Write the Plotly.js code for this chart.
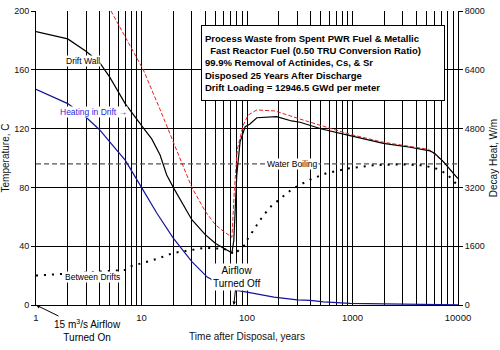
<!DOCTYPE html>
<html>
<head>
<meta charset="utf-8">
<script src="https://cdn.plot.ly/plotly-3.0.1.min.js"></script>
<style>html,body{margin:0;padding:0;background:#fff}#chart{width:500px;height:350px}</style>
</head>
<body>
<div id="chart"></div>
<script>
// Drift wall temperature (C)
const wallYears = [1,2,3,4,5,7,10.4,12.5,15,17.3,20,30,40,50,60,70,72,75,78,80,86,96,106,124,191,265,318,510,947,1960,3510,5430,6000,7260,9040,10000];
const wallTemp  = [186,181,172.5,165,155,137,120.5,113,102,88.6,80,58,48,42,38.6,36.3,35.5,44,79,88.4,111,121.3,123,127.4,128.1,125.2,124.3,119.7,115.2,110,107.3,104.8,103.2,97.5,89.6,86];
// Second (red dashed) temperature curve (C)
const redYears = [5.14,10.4,15,20,30,40,50,60,70,72,76,81,83,92,103,124,184,265,318,548,947,1960,3510,5260,7260,9040,10000];
const redTemp  = [200,160,133,111,80,64,54.7,50.1,46.7,46,79,106,109,122.4,129.3,132.7,132,128.1,126.5,121.3,116.1,110.7,107.7,105.9,97.5,89.6,86];
// Between drifts temperature (C)
const betweenYears = [1,7,7.8,10,13.9,20,30,40,60,70,75,85,96,100,106,117,128,141,170,213,256,306,410,569,881,1574,2820,4690,6280,7810,9370,10000];
const betweenTemp  = [20,23.8,26.2,28.5,31.3,35.4,37.7,38.9,38.2,36.6,34.3,37.5,41,44.2,47,52,56,60.4,67.3,73.1,77.7,81.2,85.8,89.7,92.7,95,95.7,95,92.7,89.3,83.5,81];
// Heating in drift (W/m, right axis)
const heatYears = [1,2,3,4,5,7,10,13.9,20,30,42,50,60,70,80,100,130,180,300,400,530,950,2000,4400,10000];
const heatWm    = [5870,5480,5100,4770,4440,3940,3200,2510,1820,1180,760,640,540,460,400,350,290,215,140,125,85,46,30,12,5];
// Water boiling (C)
const boilYears = [1,10000];
const boilTemp  = [96,96];
// Axis ticks
const xMajorTicks = [1,10,100,1000,10000];
const xMinorTicks = [2,3,4,5,6,7,8,9,20,30,40,50,60,70,80,90,200,300,400,500,600,700,800,900,2000,3000,4000,5000,6000,7000,8000,9000];
const yTicks = [0,40,80,120,160,200];
const yGrid = [40,80,120,160];
const y2Ticks = [0,1600,3200,4800,6400,8000];

const F = 'Arial, "Liberation Sans", sans-serif';
const L = 36, R = 458, T = 11, B = 305;
const px = v => (v - L) / (R - L);
const py = v => (B - v) / (B - T);

const traces = [
  {x: boilYears, y: boilTemp, mode:'lines', line:{color:'#555', width:1.2, dash:'5px,3px'}, hoverinfo:'skip'},
  {x: heatYears, y: heatWm, yaxis:'y2', mode:'lines', line:{color:'#14149c', width:1.2}},
  {x: betweenYears, y: betweenTemp, mode:'lines', line:{color:'#000', width:2, dash:'2px,6px'}},
  {x: redYears, y: redTemp, mode:'lines', line:{color:'#e82020', width:1, dash:'4px,2px'}},
  {x: wallYears, y: wallTemp, mode:'lines', line:{color:'#000', width:1.2}}
];

const layout = {
  width:500, height:350,
  margin:{l:L, r:500-R, t:T, b:350-B},
  paper_bgcolor:'#fff', plot_bgcolor:'#fff',
  showlegend:false,
  font:{family:F, size:9, color:'#111'},
  xaxis:{
    type:'log', range:[0,4], tickvals:xMajorTicks, ticktext:xMajorTicks.map(String),
    showgrid:true, gridcolor:'#000', gridwidth:1,
    minor:{tickvals:xMinorTicks, showgrid:true, gridcolor:'#000', gridwidth:1, ticks:''},
    showline:true, linecolor:'#000', linewidth:1, ticks:'', zeroline:false,
    ticklabelstandoff:4,
    tickfont:{size:9.5, family:F, color:'#111'},
    title:{text:'Time after Disposal, years', font:{size:10, family:F, color:'#111'}, standoff:10}
  },
  yaxis:{
    range:[0,200], tickvals:yTicks, showgrid:false, zeroline:false,
    minor:{tickvals:yGrid, showgrid:true, gridcolor:'#000', gridwidth:1, ticks:''},
    showline:true, linecolor:'#000', linewidth:1, ticks:'outside', ticklen:4, tickcolor:'#000',
    tickfont:{size:9, family:F, color:'#111'},
    title:{text:'Temperature, C', font:{size:10, family:F, color:'#111'}, standoff:4}
  },
  yaxis2:{
    overlaying:'y', side:'right', range:[0,8000], tickvals:y2Ticks, showgrid:false, zeroline:false,
    showline:true, linecolor:'#000', linewidth:1, ticks:'outside', ticklen:4, tickcolor:'#000',
    tickfont:{size:9, family:F, color:'#111'},
    title:{text:'Decay Heat, W/m', font:{size:10, family:F, color:'#111'}, standoff:6}
  },
  annotations:[
    {xref:'paper', yref:'paper', x:px(201), y:py(25), xanchor:'left', yanchor:'top', showarrow:false,
     align:'left', bgcolor:'#fff', bordercolor:'#000', borderwidth:1, borderpad:3,
     width:236, height:68,
     font:{family:F, size:9.5, color:'#000', weight:'bold'},
     text:'<b>Process Waste from Spent PWR Fuel &amp; Metallic<br>&nbsp;&nbsp;Fast Reactor Fuel (0.50 TRU Conversion Ratio)<br>99.9% Removal of Actinides, Cs, &amp; Sr<br>Disposed 25 Years After Discharge<br>Drift Loading = 12946.5 GWd per meter</b>'},
    {xref:'paper', yref:'paper', x:px(83), y:py(61), xanchor:'center', yanchor:'middle', showarrow:false, bgcolor:'#fff', borderpad:0,
     font:{family:F, size:8.5, color:'#000'}, text:'Drift Wall'},
    {xref:'paper', yref:'paper', x:px(93), y:py(112), xanchor:'center', yanchor:'middle', showarrow:false, bgcolor:'#fff', borderpad:0,
     font:{family:F, size:8.5, color:'#2a2ae0'}, text:'Heating in Drift \u2192'},
    {xref:'paper', yref:'paper', x:px(92), y:py(277), xanchor:'center', yanchor:'middle', showarrow:false, bgcolor:'#fff', borderpad:0,
     font:{family:F, size:8.5, color:'#000'}, text:'Between Drifts'},
    {xref:'paper', yref:'paper', x:px(292), y:py(164), xanchor:'center', yanchor:'middle', showarrow:false, bgcolor:'#fff', borderpad:0,
     font:{family:F, size:8.5, color:'#000'}, text:'Water Boiling'},
    {xref:'x', yref:'y', x:Math.log10(75), y:0, ax:3, ay:-28, showarrow:true, arrowhead:2, arrowsize:0.7, arrowwidth:1, arrowcolor:'#000',
     bgcolor:'#fff', borderpad:1, font:{family:F, size:10, color:'#000'}, text:'Airflow<br>Turned Off'},
    {xref:'x', yref:'y', x:0, y:0, ax:51, ay:25, showarrow:true, arrowhead:2, arrowsize:0.8, arrowwidth:1, arrowcolor:'#000',
     font:{family:F, size:10, color:'#000'}, text:'15 m<sup>3</sup>/s Airflow<br>Turned On'}
  ]
};

Plotly.newPlot('chart', traces, layout, {staticPlot:true, displayModeBar:false});
</script>
</body>
</html>
